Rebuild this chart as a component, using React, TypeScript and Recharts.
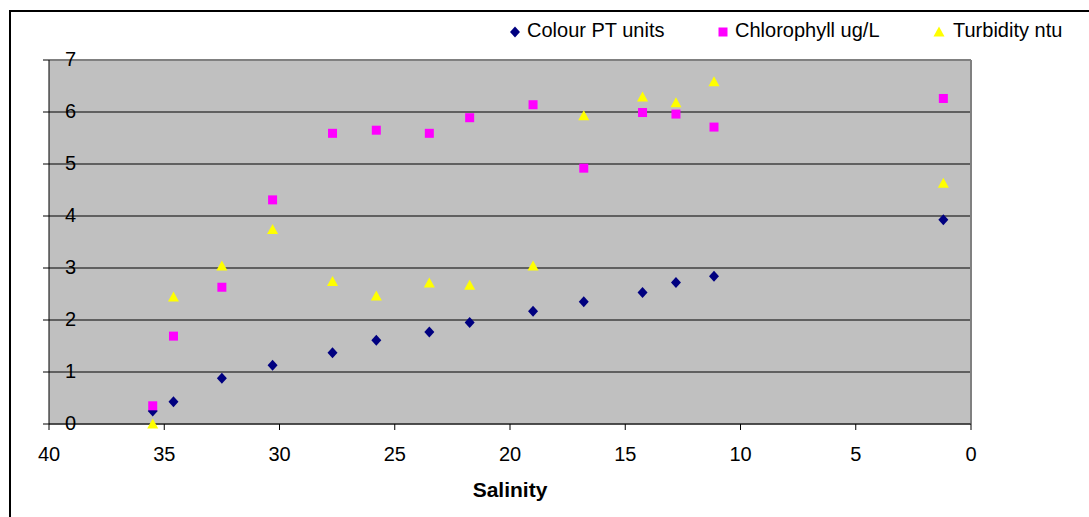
import React from 'react';
import { ScatterChart, Scatter, XAxis, YAxis, CartesianGrid, ReferenceLine } from 'recharts';

const salinity = [35.5, 34.6, 32.5, 30.3, 27.7, 25.8, 23.5, 21.75, 19.0, 16.8, 14.25, 12.8, 11.15, 1.2];
const colourPT = [0.25, 0.43, 0.88, 1.13, 1.37, 1.61, 1.77, 1.95, 2.17, 2.35, 2.53, 2.72, 2.84, 3.93];
const chlorophyll = [0.35, 1.69, 2.63, 4.31, 5.59, 5.65, 5.59, 5.89, 6.14, 4.92, 5.99, 5.96, 5.71, 6.26];
const turbidity = [0.0, 2.44, 3.04, 3.74, 2.74, 2.46, 2.71, 2.67, 3.04, 5.93, 6.29, 6.18, 6.58, 4.63];

const xTicks = [0, 5, 10, 15, 20, 25, 30, 35, 40];
const yTicks = [0, 1, 2, 3, 4, 5, 6, 7];

const FONT = '"Liberation Sans", Arial, sans-serif';

const toPoints = (ys: number[]) => salinity.map((x, i) => ({ x, y: ys[i] }));

const Diamond = ({ cx, cy }: any) => (
  <path d={`M${cx},${cy - 5.5} L${cx + 5},${cy} L${cx},${cy + 5.5} L${cx - 5},${cy} Z`} fill="#000080" />
);
const Square = ({ cx, cy }: any) => <rect x={cx - 4.5} y={cy - 4.5} width={9} height={9} fill="#FF00FF" />;
const Triangle = ({ cx, cy }: any) => (
  <path d={`M${cx},${cy - 5.5} L${cx + 5.5},${cy + 4.5} L${cx - 5.5},${cy + 4.5} Z`} fill="#FFFF00" />
);

const series = [
  { name: 'Colour PT units', values: colourPT, shape: Diamond, lx: 515, tx: 527 },
  { name: 'Chlorophyll ug/L', values: chlorophyll, shape: Square, lx: 723, tx: 735 },
  { name: 'Turbidity ntu', values: turbidity, shape: Triangle, lx: 939, tx: 953 },
];

const YTick = ({ y, payload }: any) => (
  <text x={76} y={y} dy={6} textAnchor="end" fontSize={20} fontFamily={FONT} fill="#000">
    {payload.value}
  </text>
);

export default function App() {
  return (
    <div style={{ position: 'relative', width: 1089, height: 517, overflow: 'hidden', background: '#fff' }}>
      <style>{'body{margin:0}'}</style>
      <div
        style={{
          position: 'absolute',
          left: 9,
          top: 10,
          width: 1200,
          height: 600,
          border: '2px solid #000',
          boxSizing: 'border-box',
        }}
      />
      <div style={{ position: 'absolute', left: 0, top: 0 }}>
        <ScatterChart width={1089} height={517} margin={{ top: 60, right: 118, bottom: 63, left: 9 }}>
          <CartesianGrid vertical={false} stroke="#000" fill="#C0C0C0" fillOpacity={1} />
          <XAxis
            type="number"
            dataKey="x"
            domain={[0, 40]}
            ticks={xTicks}
            reversed
            height={30}
            tickSize={6}
            tickMargin={17}
            axisLine={{ stroke: '#404040', strokeWidth: 1.5 }}
            tickLine={{ stroke: '#000' }}
            tick={{ fontSize: 20, fontFamily: FONT, fill: '#000' }}
            label={{
              value: 'Salinity',
              position: 'bottom',
              offset: 28,
              style: { fontSize: 21, fontWeight: 'bold', fontFamily: FONT, fill: '#000' },
            }}
          />
          <YAxis
            type="number"
            dataKey="y"
            domain={[0, 7]}
            ticks={yTicks}
            width={40}
            tickSize={6}
            axisLine={{ stroke: '#000' }}
            tickLine={{ stroke: '#000' }}
            tick={YTick}
          />
          <ReferenceLine y={7} stroke="#808080" strokeWidth={2} />
          <ReferenceLine x={0} stroke="#808080" strokeWidth={2} />
          {series.map((s) => (
            <Scatter
              key={s.name}
              name={s.name}
              data={toPoints(s.values)}
              shape={s.shape}
              isAnimationActive={false}
            />
          ))}
        </ScatterChart>
      </div>
      <svg width={1089} height={60} style={{ position: 'absolute', left: 0, top: 0 }}>
        {series.map((s) => {
          const Shape = s.shape;
          return (
            <g key={s.name}>
              <Shape cx={s.lx} cy={32} />
              <text x={s.tx} y={37} fontSize={20} fontFamily={FONT} fill="#000">
                {s.name}
              </text>
            </g>
          );
        })}
      </svg>
    </div>
  );
}
